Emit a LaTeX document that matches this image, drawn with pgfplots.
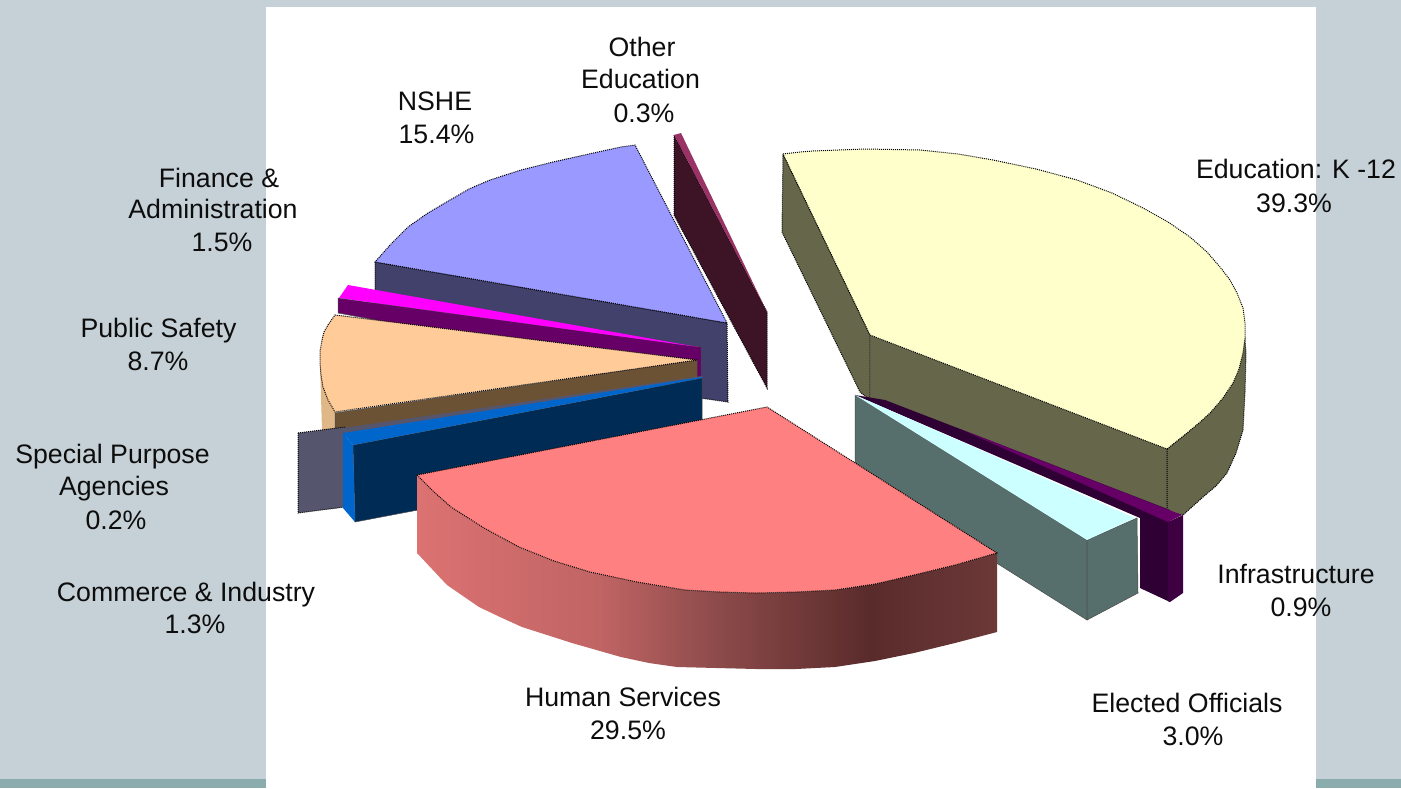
\documentclass[border=0pt]{standalone}
\usepackage{pgfplots}
\pgfplotsset{compat=1.18}
\usepackage{fontspec}
\setmainfont{Liberation Sans}
\definecolor{bgc}{HTML}{C6D1D7}
\definecolor{band}{HTML}{8AACAC}
\definecolor{rA}{HTML}{DC7272}
\definecolor{rB}{HTML}{C06464}
\definecolor{rC}{HTML}{8C4A4A}
\definecolor{rD}{HTML}{5A2B2B}
\definecolor{rE}{HTML}{6C3838}
\definecolor{yTop}{HTML}{FFFFCC}
\definecolor{ySide}{HTML}{66664A}
\definecolor{nTop}{HTML}{9999FF}
\definecolor{nSide}{HTML}{41416C}
\definecolor{oTop}{HTML}{993366}
\definecolor{oSide}{HTML}{3D1426}
\definecolor{fTop}{HTML}{FF00FF}
\definecolor{fSide}{HTML}{660066}
\definecolor{pTop}{HTML}{FFCC99}
\definecolor{pSide}{HTML}{6B5234}
\definecolor{pOut}{HTML}{E0B888}
\definecolor{sSide}{HTML}{55556E}
\definecolor{cTop}{HTML}{0066CC}
\definecolor{cSide}{HTML}{002B55}
\definecolor{rTop}{HTML}{FF8080}
\definecolor{eTop}{HTML}{CCFFFF}
\definecolor{eSide}{HTML}{566E6C}
\definecolor{iTop}{HTML}{660066}
\definecolor{iSide}{HTML}{2E0033}
\definecolor{iSideB}{HTML}{3D0040}
\pgfdeclarehorizontalshading{redside}{100bp}{color(0bp)=(rA); color(25bp)=(rA); color(40.8bp)=(rB); color(51bp)=(rC); color(64bp)=(rD); color(75bp)=(rE); color(100bp)=(rE)}
\tikzset{
  face/.style={fill=#1,draw=none},
  edge/.style={fill=#1,draw=black,densely dotted,line width=1pt},
  soft/.style={fill=#1,draw=black!70,line width=0.5pt},
  lab/.style={anchor=base,inner sep=0pt,font=\fontsize{26.7}{32}\selectfont,text=black!95}
}
\begin{document}
\begin{tikzpicture}
\begin{axis}[hide axis,scale only axis,width=1401pt,height=788pt,
  xmin=0,xmax=1401,ymin=0,ymax=788,y dir=reverse,clip=true]
% background
\addplot[face=bgc] coordinates {(0,0)(1401,0)(1401,788)(0,788)} -- cycle;
\addplot[face=band] coordinates {(0,779)(1401,779)(1401,788)(0,788)} -- cycle;
\addplot[face=white] coordinates {(266,7)(1316,7)(1316,788)(266,788)} -- cycle;
% Other Education
\addplot[edge=oSide] coordinates {(674,135)(674,215)(767,388)(767,312)} -- cycle;
\addplot[face=oTop] coordinates {(674,135)(681,133)(767,312)} -- cycle;
% NSHE
\addplot[edge=nSide] coordinates {(375,262)(727,323)(728,402)(700,398)(375,330)} -- cycle;
\addplot[edge=nTop] coordinates {(727,323)(635,145)(621,147)(607,150)(580,156)(553,162)(521,170)(490,180)(469,189)(450,200)(428,213)(408,227)(391,244)(375,262)} -- cycle;
% Finance
\addplot[soft=fSide] coordinates {(338,298)(701,347)(701,380)(338,313)} -- cycle;
\addplot[face=fTop] coordinates {(348,285)(339,298)(698,347)} -- cycle;
% Public Safety
\addplot[face=pOut] coordinates {(320,363)(323,387)(335,412)(340,430)(322,430)} -- cycle;
\addplot[soft=pSide] coordinates {(335,413)(697,360)(697,378)(335,430)} -- cycle;
\addplot[edge=pTop] coordinates {(697,360)(335,315)(328,325)(324,332)(322,340)(320,352)(320,363)(321,375)(323,387)(328,400)(335,412)} -- cycle;
% Special Purpose
\addplot[edge=sSide] coordinates {(298,433)(345,427)(345,507)(298,513)} -- cycle;
\addplot[face=sSide] coordinates {(343,428)(702,376)(702,378)(343,434)} -- cycle;
% Commerce
\addplot[soft=cSide] coordinates {(353,445)(702,378)(702,456)(355,522)} -- cycle;
\addplot[face=cTop] coordinates {(343,433)(353,445)(355,522)(343,508)} -- cycle;
\addplot[face=cTop] coordinates {(343,433)(702,377)(702,378)(353,445)} -- cycle;
% Education K-12
\addplot[edge=ySide] coordinates {(783,154)(870,335)(870,400)(860,392)(782,232)} -- cycle;
\addplot[soft=ySide] coordinates {(870,335)(1167,449)(1167,512)(870,400)} -- cycle;
\addplot[edge=ySide] coordinates {(1167,449)(1187,433)(1210,413)(1233,383)(1245,340)(1246,353)(1245,392)(1243,430)(1236,453)(1227,473)(1216,486)(1203,497)(1193,506)(1183,515)(1167,512)} -- cycle;
\addplot[edge=yTop] coordinates {(783,154)(800,152)(813,151)(865,149)(920,150)(958,154)(993,160)(1036,169)(1077,180)(1112,193)(1143,208)(1168,222)(1190,237)(1207,252)(1220,267)(1230,280)(1237,293)(1243,308)(1245,323)(1245,338)(1243,353)(1239,369)(1233,383)(1223,398)(1210,413)(1199,423)(1187,433)(1167,449)(870,335)} -- cycle;
% Infrastructure
\addplot[face=iSide] coordinates {(885,400)(1170,510)(1170,602)(1140,588)(1140,518)(855,395)} -- cycle;
\addplot[face=iSideB] coordinates {(1168,522)(1183,515)(1183,593)(1170,602)(1168,601)} -- cycle;
\addplot[face=iTop] coordinates {(960,429)(1182,515)(1168,522)} -- cycle;
% Elected Officials
\addplot[soft=eSide] coordinates {(855,395)(1087,540)(1087,620)(855,474)} -- cycle;
\addplot[soft=eSide] coordinates {(1087,540)(1137,518)(1138,593)(1087,620)} -- cycle;
\addplot[face=eTop] coordinates {(855,395)(1135,518)(1087,540)} -- cycle;
% Human Services
\addplot[draw=none,shading=redside] coordinates {(417,475)(434,492)(451,507)(484,528)(519,547)(554,561)(590,572)(637,582)(685,590)(720,592)(756,593)(796,592)(835,590)(875,584)(914,575)(955,565)(997,553)(997,632)(955,643)(914,653)(875,661)(835,667)(796,669)(756,669)(716,668)(677,667)(649,663)(621,657)(572,643)(522,627)(500,617)(479,607)(463,596)(447,585)(432,569)(417,553)} -- cycle;
\addplot[edge=rTop] coordinates {(417,475)(767,407)(997,553)(955,565)(914,575)(875,584)(835,590)(796,592)(756,593)(720,592)(685,590)(637,582)(590,572)(554,561)(519,547)(484,528)(451,507)(434,492)} -- cycle;
% Labels
\node[lab] at (axis cs:642,56) {Other};
\node[lab] at (axis cs:640.5,88) {Education};
\node[lab] at (axis cs:644,122) {0.3\%};
\node[lab] at (axis cs:435,110) {NSHE};
\node[lab] at (axis cs:436.5,143) {15.4\%};
\node[lab] at (axis cs:219,187) {Finance \&};
\node[lab] at (axis cs:213,218) {Administration};
\node[lab] at (axis cs:222,251) {1.5\%};
\node[lab] at (axis cs:158.5,337) {Public Safety};
\node[lab] at (axis cs:158,370) {8.7\%};
\node[lab] at (axis cs:112.5,463) {Special Purpose};
\node[lab] at (axis cs:114,495) {Agencies};
\node[lab] at (axis cs:116,529) {0.2\%};
\node[lab] at (axis cs:186,601) {Commerce \& Industry};
\node[lab] at (axis cs:195,633) {1.3\%};
\node[lab] at (axis cs:623,706) {Human Services};
\node[lab] at (axis cs:628,739) {29.5\%};
\node[lab] at (axis cs:1187,712) {Elected Officials};
\node[lab] at (axis cs:1193,745) {3.0\%};
\node[lab] at (axis cs:1296,583) {Infrastructure};
\node[lab] at (axis cs:1301,616) {0.9\%};
\node[lab] at (axis cs:1296,178) {Education: K -12};
\node[lab] at (axis cs:1294,212) {39.3\%};
\end{axis}
\end{tikzpicture}
\end{document}
